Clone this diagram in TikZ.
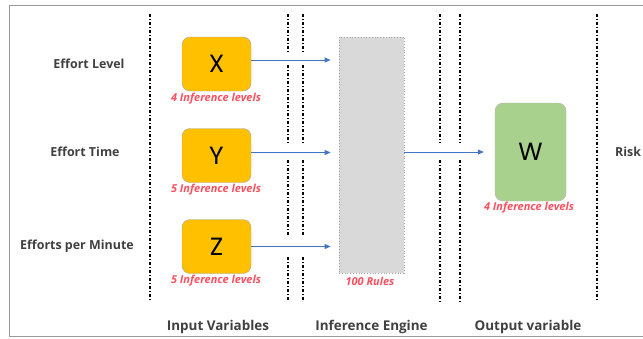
\documentclass[tikz,border=0pt]{standalone}
\usepackage{fontspec}
\setmainfont{Open Sans}
\newfontfamily\letterfont{Poppins}
\usetikzlibrary{arrows.meta,calc}
\definecolor{boxorange}{HTML}{FFC000}
\definecolor{boxgreen}{HTML}{A9D18E}
\definecolor{engine}{HTML}{D9D9D9}
\definecolor{lblred}{HTML}{FF4F5E}
\definecolor{arrblue}{HTML}{4472C4}
\definecolor{txtgray}{HTML}{404040}
\tikzset{
  x=1bp, y=-1bp,
  sep/.style={line width=1.2bp, black, dash pattern=on 3bp off 2bp on 1bp off 2bp},
  varbox/.style={draw=gray!70, fill=boxorange, rounded corners=8bp, minimum width=69bp, minimum height=54bp, inner sep=0pt, font=\letterfont\fontsize{25}{25}\selectfont},
  outbox/.style={draw=gray!60, fill=boxgreen, rounded corners=8bp, minimum width=71bp, minimum height=98bp, inner sep=0pt, font=\letterfont\fontsize{25}{25}\selectfont},
  levels/.style={text=lblred, font=\bfseries\itshape\fontsize{11}{12}\selectfont, inner sep=0pt},
  sidelbl/.style={text=txtgray, font=\bfseries\fontsize{12.5}{14}\selectfont, inner sep=0pt},
  collbl/.style={text=txtgray, font=\bfseries\fontsize{13.5}{15}\selectfont, inner sep=0pt},
  flow/.style={arrblue, line width=0.8bp, -{Triangle[length=6bp,width=5bp]}},
}
\begin{document}
\begin{tikzpicture}
\useasboundingbox (0,0) rectangle (643,338);
% frame
\draw[gray!80, line width=0.8bp] (660,5) -- (9,5) -- (9,336.5) -- (660,336.5);
% separators
\draw[sep] (150,14) -- (150,302);
\foreach \xx in {288,303}{
  \draw[sep] (\xx,14) -- (\xx,53);
  \draw[sep] (\xx,65) -- (\xx,145);
  \draw[sep] (\xx,160) -- (\xx,237);
  \draw[sep] (\xx,257) -- (\xx,302);
}
\foreach \xx in {440,460}{
  \draw[sep] (\xx,14) -- (\xx,143);
  \draw[sep] (\xx,160) -- (\xx,302);
}
\draw[sep] (597,14) -- (597,302);
% side labels
\node[sidelbl] (l1) at (89,64) {Effort Level};
\node[sidelbl] (l2) at (85,152) {Effort Time};
\node[sidelbl] (l3) at (77,246) {Efforts per Minute};
\node[sidelbl, anchor=west] (l4) at (615,152) {Risk};
% input boxes
\node[varbox] (X) at (216.5,64) {X};
\node[varbox] (Y) at (216.5,155.5) {Y};
\node[varbox] (Z) at (216.5,246.5) {Z};
\node[levels] (lx) at (216,99) {4 Inference levels};
\node[levels] (ly) at (216,190) {5 Inference levels};
\node[levels] (lz) at (216,281) {5 Inference levels};
% engine
\node[draw=gray!70, dotted, line width=0.8bp, fill=engine, minimum width=65bp, minimum height=236bp, inner sep=0pt] (E) at (371.5,155) {};
\node[levels] (le) at (370,281) {100 Rules};
% output
\node[outbox] (W) at (530.5,152) {W};
\node[levels] (lw) at (529,208) {4 Inference levels};
% arrows
\draw[flow, shorten >=8bp] ([yshift=4bp]X.east) -- ([yshift=4bp]X.east -| E.west);
\draw[flow, shorten >=8bp] ([yshift=3bp]Y.east) -- ([yshift=3bp]Y.east -| E.west);
\draw[flow, shorten >=8bp] (Z.east) -- (Z.east -| E.west);
\draw[flow, shorten >=11bp] (E.east |- W.west) -- (W.west);
% column labels
\node[collbl] (c1) at (218,327) {Input Variables};
\node[collbl] (c2) at (371.5,327) {Inference Engine};
\node[collbl] (c3) at (528,327) {Output variable};
\end{tikzpicture}
\end{document}
